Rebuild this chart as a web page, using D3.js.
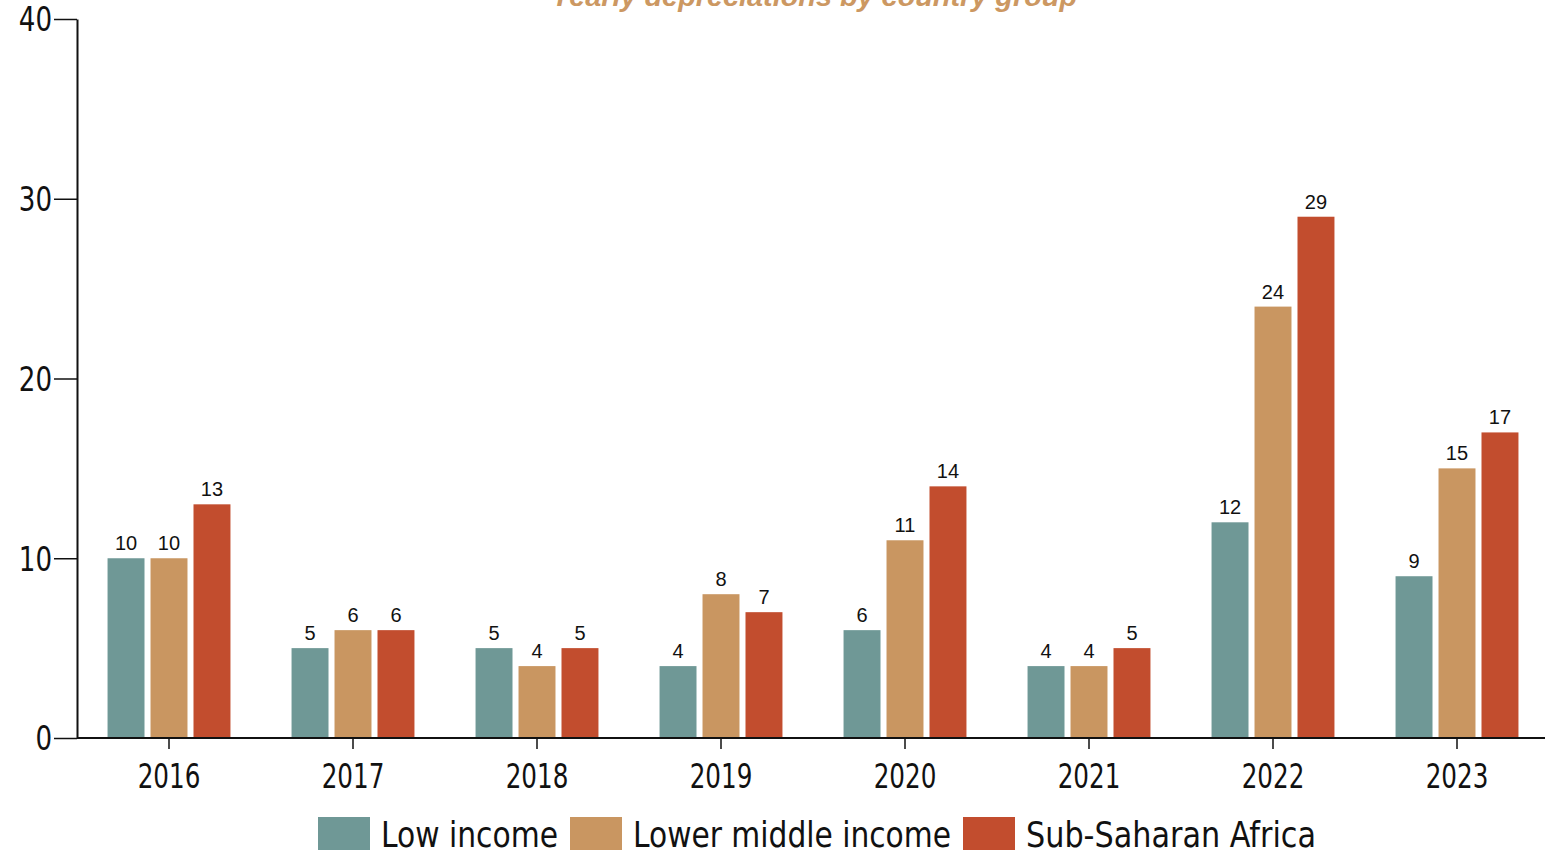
<!DOCTYPE html>
<html>
<head>
<meta charset="utf-8">
<script src="https://cdn.jsdelivr.net/npm/d3@7"></script>
<style>
  html, body { margin: 0; padding: 0; background: #fff; }
  svg { display: block; }
</style>
</head>
<body>
<svg id="chart" width="1545" height="851"></svg>
<script>
// Yearly depreciations by country group
const years = ["2016", "2017", "2018", "2019", "2020", "2021", "2022", "2023"];
const seriesNames = ["Low income", "Lower middle income", "Sub-Saharan Africa"];
const lowIncome = [10, 5, 5, 4, 6, 4, 12, 9];
const lowerMiddleIncome = [10, 6, 4, 8, 11, 4, 24, 15];
const subSaharanAfrica = [13, 6, 5, 7, 14, 5, 29, 17];
const yTicks = [0, 10, 20, 30, 40];
const colors = ["#6f9896", "#c99661", "#c24d2e"];
const titleText = "Yearly depreciations by country group";

const series = [lowIncome, lowerMiddleIncome, subSaharanAfrica];
const rows = years.map((yr, i) => ({
  year: yr,
  values: seriesNames.map((name, k) => ({ key: name, k, value: series[k][i] }))
}));

const svg = d3.select("#chart");
const condensed = "'DejaVu Sans Condensed', 'Liberation Sans Narrow', 'Roboto', sans-serif";
const plain = "'Liberation Sans', Arial, sans-serif";

// squeeze a text element horizontally to a fraction of its natural width
function squeeze(sel, factor) {
  sel.each(function () {
    const w = this.getComputedTextLength();
    d3.select(this).attr("textLength", w * factor).attr("lengthAdjust", "spacingAndGlyphs");
  });
}

const x0 = d3.scaleBand().domain(years).range([77, 1549]).paddingInner(0.332).paddingOuter(0.166);
const x1 = d3.scaleBand().domain(seriesNames).range([0, x0.bandwidth()]).paddingInner(0.14);
const y = d3.scaleLinear().domain([0, 40]).range([738, 19]);
const color = d3.scaleOrdinal().domain(seriesNames).range(colors);

// Title (sits partly above the top edge)
svg.append("text")
  .attr("x", 814).attr("y", 6)
  .attr("text-anchor", "middle")
  .attr("font-family", plain)
  .attr("font-style", "italic")
  .attr("font-weight", "bold")
  .attr("font-size", 28)
  .attr("fill", "#cc9862")
  .attr("textLength", 526)
  .attr("lengthAdjust", "spacingAndGlyphs")
  .text(titleText);

// Bars
const groups = svg.append("g").selectAll("g")
  .data(rows).join("g")
  .attr("transform", d => `translate(${x0(d.year)},0)`);

groups.selectAll("rect")
  .data(d => d.values).join("rect")
  .attr("x", d => x1(d.key))
  .attr("y", d => y(d.value))
  .attr("width", x1.bandwidth())
  .attr("height", d => y(0) - y(d.value))
  .attr("fill", d => color(d.key));

groups.selectAll("text")
  .data(d => d.values).join("text")
  .attr("x", d => x1(d.key) + x1.bandwidth() / 2)
  .attr("y", d => y(d.value) - 8)
  .attr("text-anchor", "middle")
  .attr("font-family", plain)
  .attr("font-size", 20)
  .attr("fill", "#111")
  .text(d => d.value);

// Y axis
const yAxis = svg.append("g")
  .attr("transform", "translate(77,0)")
  .call(d3.axisLeft(y).tickValues(yTicks).tickSize(23).tickPadding(2).tickSizeOuter(0));
yAxis.select(".domain").attr("stroke", "#111").attr("stroke-width", 2);
yAxis.selectAll(".tick line").attr("stroke", "#111").attr("stroke-width", 1.5);
yAxis.selectAll(".tick text")
  .attr("font-family", condensed)
  .attr("font-size", 33)
  .attr("fill", "#111")
  .attr("dy", "0.36em")
  .call(squeeze, 0.88);

// X axis
const xAxis = svg.append("g")
  .attr("transform", "translate(0,738)")
  .call(d3.axisBottom(x0).tickSize(11).tickPadding(8).tickSizeOuter(0));
xAxis.select(".domain").attr("d", "M77,0H1545").attr("stroke", "#111").attr("stroke-width", 2.2);
xAxis.selectAll(".tick line").attr("stroke", "#111").attr("stroke-width", 1.5);
xAxis.selectAll(".tick text")
  .attr("font-family", condensed)
  .attr("font-size", 33)
  .attr("fill", "#111")
  .attr("dy", "0.95em")
  .call(squeeze, 0.83);

// Legend
const legendItems = [
  { name: seriesNames[0], x: 318, w: 177 },
  { name: seriesNames[1], x: 570, w: 318 },
  { name: seriesNames[2], x: 963, w: 290 }
];
const legend = svg.append("g").selectAll("g")
  .data(legendItems).join("g")
  .attr("transform", d => `translate(${d.x},817)`);
legend.append("rect")
  .attr("width", 52).attr("height", 33)
  .attr("fill", d => color(d.name));
legend.append("text")
  .attr("x", 63).attr("y", 30)
  .attr("font-family", condensed)
  .attr("font-size", 35)
  .attr("fill", "#111")
  .attr("textLength", d => d.w)
  .attr("lengthAdjust", "spacingAndGlyphs")
  .text(d => d.name);
</script>
</body>
</html>
